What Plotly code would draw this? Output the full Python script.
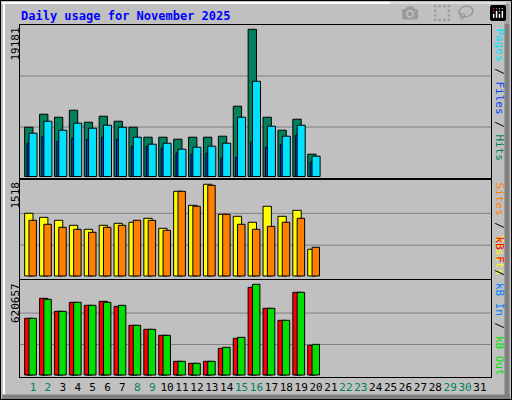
import plotly.graph_objects as go

days = list(range(1, 21))
hits = [6423,8116,7725,8637,7074,7855,7204,6423,5121,5121,4861,5121,5121,5251,9157,19181,7725,6032,7465,2908]
pages = [5642,7204,6032,6944,6293,6684,6423,5121,4210,4340,3559,3819,3949,4340,7725,12412,6553,5251,6684,2647]
files = [4340,5251,4600,4991,4861,5121,4861,3949,3949,3689,3038,2908,3038,2387,2517,4470,3819,4210,5382,1866]
visits = [1038,971,922,839,773,839,872,889,955,789,1402,1170,1518,1021,988,889,1154,988,1087,442]
sites = [922,856,806,773,723,806,839,922,922,756,1402,1154,1501,1021,856,773,822,889,955,475]
kbf = [387900,524700,435900,497500,476900,504300,470100,340000,312600,271600,93600,79900,93600,182500,251000,600100,456400,374200,565900,203100]
kbout = [387900,518000,435900,497500,476900,497500,476900,340000,312600,271600,93600,79900,93600,189400,257900,620657,456400,374200,565900,209900]
kbin = [1500,1500,1500,1500,1500,1500,1500,1500,1500,1500,1500,1500,1500,1500,3000,4000,1500,1500,1500,1500]
all_days = list(range(1, 32))
weekend = {1, 2, 8, 9, 15, 16, 22, 23, 29, 30}

fig = go.Figure()
line = dict(color="black", width=1)

def bar(y, color, off, w, ax):
    fig.add_trace(go.Bar(x=days, y=y, offset=off, width=w, marker=dict(color=color, line=line),
                         xaxis="x" if ax == 1 else f"x{ax}", yaxis="y" if ax == 1 else f"y{ax}",
                         showlegend=False, hoverinfo="y"))

bar(hits, "#00805c", -0.56, 0.56, 1)
bar(files, "#0040ff", -0.4, 0.18, 1)
bar(pages, "#00e0ff", -0.27, 0.54, 1)
bar(visits, "#ffff00", -0.56, 0.56, 2)
bar(sites, "#ff8000", -0.27, 0.5, 2)
bar(kbf, "#ff0000", -0.56, 0.56, 3)
bar(kbin, "#0080ff", -0.4, 0.18, 3)
bar(kbout, "#00e000", -0.27, 0.5, 3)

xr = [0.128, 31.74]
xd = [20/512, 491/512]
axcommon = dict(range=xr, domain=xd, showgrid=False, zeroline=False, showline=True,
                linecolor="black", linewidth=1, mirror=True, fixedrange=True)
ycommon = dict(showgrid=False, zeroline=False, showticklabels=False, ticks="", showline=True,
               linecolor="black", linewidth=1, mirror=True, fixedrange=True)

ticktext = [f'<span style="color:{"#00805c" if d in weekend else "black"}">{d}</span>' for d in all_days]

fig.update_layout(
    width=512, height=400, margin=dict(l=0, r=0, t=0, b=0),
    paper_bgcolor="#c0c0c0", plot_bgcolor="#c0c0c0", barmode="overlay",
    font=dict(family="DejaVu Sans Mono", size=11, color="black"),
    xaxis=dict(**axcommon, anchor="y", showticklabels=False, ticks=""),
    xaxis2=dict(**axcommon, anchor="y2", showticklabels=False, ticks=""),
    xaxis3=dict(**axcommon, anchor="y3", tickmode="array", tickvals=all_days, ticktext=ticktext,
                ticks="", tickangle=0, tickfont=dict(family="DejaVu Sans Mono", size=11)),
    yaxis=dict(**ycommon, domain=[1-178/400, 1-25/400], range=[-195, 19741], anchor="x"),
    yaxis2=dict(**ycommon, domain=[1-279/400, 1-180/400], range=[-50, 1589], anchor="x2"),
    yaxis3=dict(**ycommon, domain=[1-377/400, 1-280/400], range=[-13686, 650082], anchor="x3"),
)

shapes = []
for yref, mx in (("y", 19181), ("y2", 1518), ("y3", 620657)):
    for f in (0.683, 0.336):
        shapes.append(dict(type="line", xref="paper", yref=yref, x0=xd[0], x1=xd[1], y0=mx*f, y1=mx*f,
                           line=dict(color="#808080", width=1), layer="below"))
# 3D border
shapes += [
    dict(type="line", xref="paper", yref="paper", x0=4/512, x1=4/512, y0=5/400, y1=1-2/400, line=dict(color="white", width=2)),
    dict(type="line", xref="paper", yref="paper", x0=2/512, x1=1-6/512, y0=1-3/400, y1=1-3/400, line=dict(color="white", width=2)),
    dict(type="line", xref="paper", yref="paper", x0=1-5/512, x1=1-5/512, y0=2/400, y1=1-4/400, line=dict(color="#808080", width=5)),
    dict(type="line", xref="paper", yref="paper", x0=2/512, x1=1-2/512, y0=3/400, y1=3/400, line=dict(color="#808080", width=5)),
    dict(type="rect", xref="paper", yref="paper", x0=0, x1=1, y0=0, y1=1, line=dict(color="black", width=2)),
]
fig.update_layout(shapes=shapes)

ann = [
    dict(text="<b>Daily usage for November 2025</b>", x=19/512, y=1-16/400, xanchor="left", yanchor="middle",
         font=dict(color="#0000ff", size=12, family="DejaVu Sans Mono")),
    dict(text="19181", x=15/512, y=1-26/400, textangle=-90, xanchor="center", yanchor="top"),
    dict(text="1518", x=15/512, y=1-180/400, textangle=-90, xanchor="center", yanchor="top"),
    dict(text="620657", x=15/512, y=1-281/400, textangle=-90, xanchor="center", yanchor="top"),
    dict(text='<span style="color:#00e0ff">Pages</span> / <span style="color:#0040ff">Files</span> / <span style="color:#00805c">Hits</span>',
         x=499/512, y=1-26/400, textangle=90, xanchor="center", yanchor="top"),
    dict(text='<span style="color:#ff8000">Sites</span> / <span style="color:#ffff00">Visits</span>',
         x=499/512, y=1-180/400, textangle=90, xanchor="center", yanchor="top"),
    dict(text='<span style="color:#ff0000">kB F</span> / <span style="color:#0080ff">kB In</span> / <span style="color:#00e000">kB Out</span>',
         x=499/512, y=1-377/400, textangle=90, xanchor="center", yanchor="bottom"),
]
for a in ann:
    a.setdefault("xref", "paper"); a.setdefault("yref", "paper"); a["showarrow"] = False
fig.update_layout(annotations=ann)

fig.write_html("out.html", post_script="document.body.style.margin='0';document.body.style.overflow='hidden';")
